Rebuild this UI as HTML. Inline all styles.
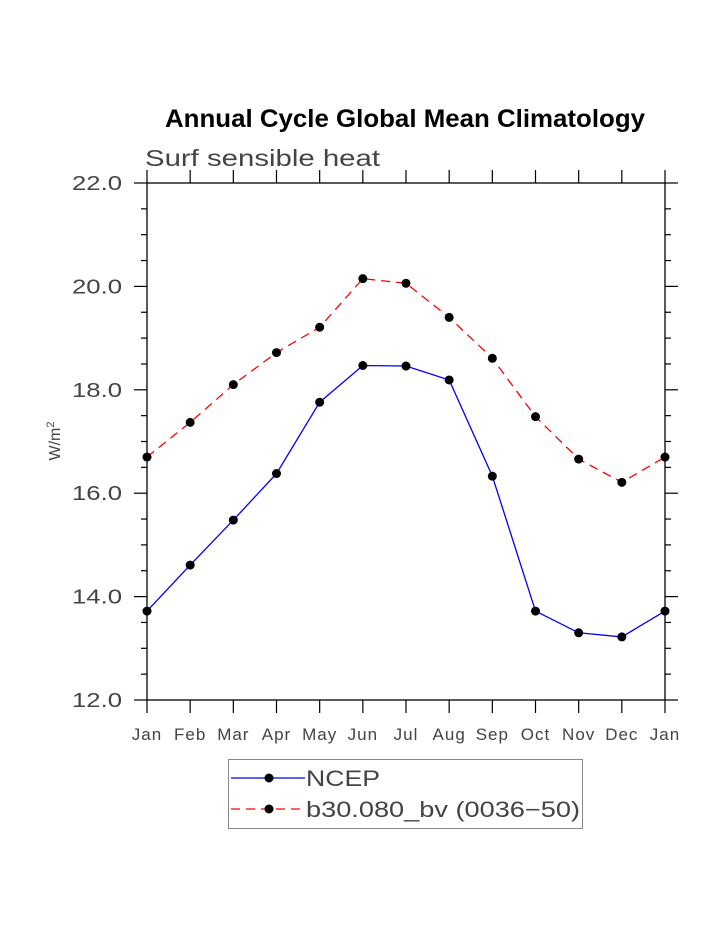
<!DOCTYPE html>
<html><head><meta charset="utf-8"><style>
html,body{margin:0;padding:0;background:#fff;}
svg{display:block;}
text{font-family:"Liberation Sans",sans-serif;}
</style></head><body>
<svg id="chart" width="723" height="935" xmlns="http://www.w3.org/2000/svg">
<text x="165" y="127" font-size="25" font-weight="bold" textLength="480" lengthAdjust="spacingAndGlyphs">Annual Cycle Global Mean Climatology</text>
<text x="145" y="166" font-size="23" fill="#444" textLength="235" lengthAdjust="spacingAndGlyphs">Surf sensible heat</text>
<text transform="translate(60,441) rotate(-90)" text-anchor="middle" font-size="16" fill="#444">W/m<tspan dy="-6" font-size="11">2</tspan></text>
<g id="axes"></g>
<g id="series"></g>
<g>
<rect x="228.5" y="759.5" width="354" height="69" fill="none" stroke="#888" stroke-width="1"/>
<line x1="231" y1="778" x2="305" y2="778" stroke="#0000ff" stroke-width="1.3"/>
<circle cx="269" cy="778" r="4.5" fill="#000"/>
<text x="306" y="786" font-size="22" fill="#444" textLength="74" lengthAdjust="spacingAndGlyphs">NCEP</text>
<line x1="231" y1="809" x2="305" y2="809" stroke="#ff0000" stroke-width="1.3" stroke-dasharray="9,6"/>
<circle cx="269" cy="809" r="4.5" fill="#000"/>
<text x="306" y="817" font-size="22" fill="#444" textLength="274" lengthAdjust="spacingAndGlyphs">b30.080_bv (0036−50)</text>
</g>
</svg>
<script>
const months=["Jan","Feb","Mar","Apr","May","Jun","Jul","Aug","Sep","Oct","Nov","Dec","Jan"];
const ncep=[13.72,14.61,15.48,16.38,17.76,18.47,18.46,18.19,16.33,13.72,13.30,13.22,13.72];
const model=[16.70,17.37,18.10,18.72,19.21,20.15,20.06,19.40,18.61,17.48,16.66,16.21,16.70];
const yTicks=[12,14,16,18,20,22];
const NS="http://www.w3.org/2000/svg";
const L=147,R=665,T=183,B=700,ymin=12,ymax=22;
const xs=i=>L+(R-L)*i/(months.length-1);
const ys=v=>B-(v-ymin)/(ymax-ymin)*(B-T);
function mk(tag,attrs,parent){const e=document.createElementNS(NS,tag);for(const k in attrs)e.setAttribute(k,attrs[k]);parent.appendChild(e);return e;}
const ax=document.getElementById('axes');
const frame=mk('rect',{x:L,y:T,width:R-L,height:B-T,fill:'none',stroke:'#000','stroke-width':1.3},ax);


months.forEach((m,i)=>{
  const x=xs(i);
  mk('line',{x1:x,y1:T,x2:x,y2:T-13,stroke:'#000','stroke-width':1.2},ax);
  mk('line',{x1:x,y1:B,x2:x,y2:B+13,stroke:'#000','stroke-width':1.2},ax);
  const t=mk('text',{x:x,y:B+40,'text-anchor':'middle','font-size':17,fill:'#444','letter-spacing':1},ax);
  t.textContent=m;
  
  
});
for(let v=ymin;v<=ymax+1e-9;v+=0.5){
  const y=ys(v);const major=Math.abs(v-Math.round(v/2)*2)<1e-9;const len=major?13:6;
  mk('line',{x1:L,y1:y,x2:L-len,y2:y,stroke:'#000','stroke-width':1.2},ax);
  mk('line',{x1:R,y1:y,x2:R+len,y2:y,stroke:'#000','stroke-width':1.2},ax);
}
yTicks.forEach(v=>{
  const t=mk('text',{x:122,y:ys(v)+7,'text-anchor':'end','font-size':20,fill:'#444',textLength:50,lengthAdjust:'spacingAndGlyphs'},ax);
  t.textContent=v.toFixed(1);
  
  
});
const sg=document.getElementById('series');
function series(vals,color,dash,name){
  const p=mk('polyline',{points:vals.map((v,i)=>xs(i)+','+ys(v)).join(' '),fill:'none',stroke:color,'stroke-width':1.3},sg);
  if(dash)p.setAttribute('stroke-dasharray',dash);
  
  
  vals.forEach((v,i)=>{
    const c=mk('circle',{cx:xs(i),cy:ys(v),r:4.5,fill:'#000'},sg);
    
    
  });
}
series(model,'#ff0000','9,6','model');
series(ncep,'#0000ff',null,'ncep');
</script>
</body></html>
